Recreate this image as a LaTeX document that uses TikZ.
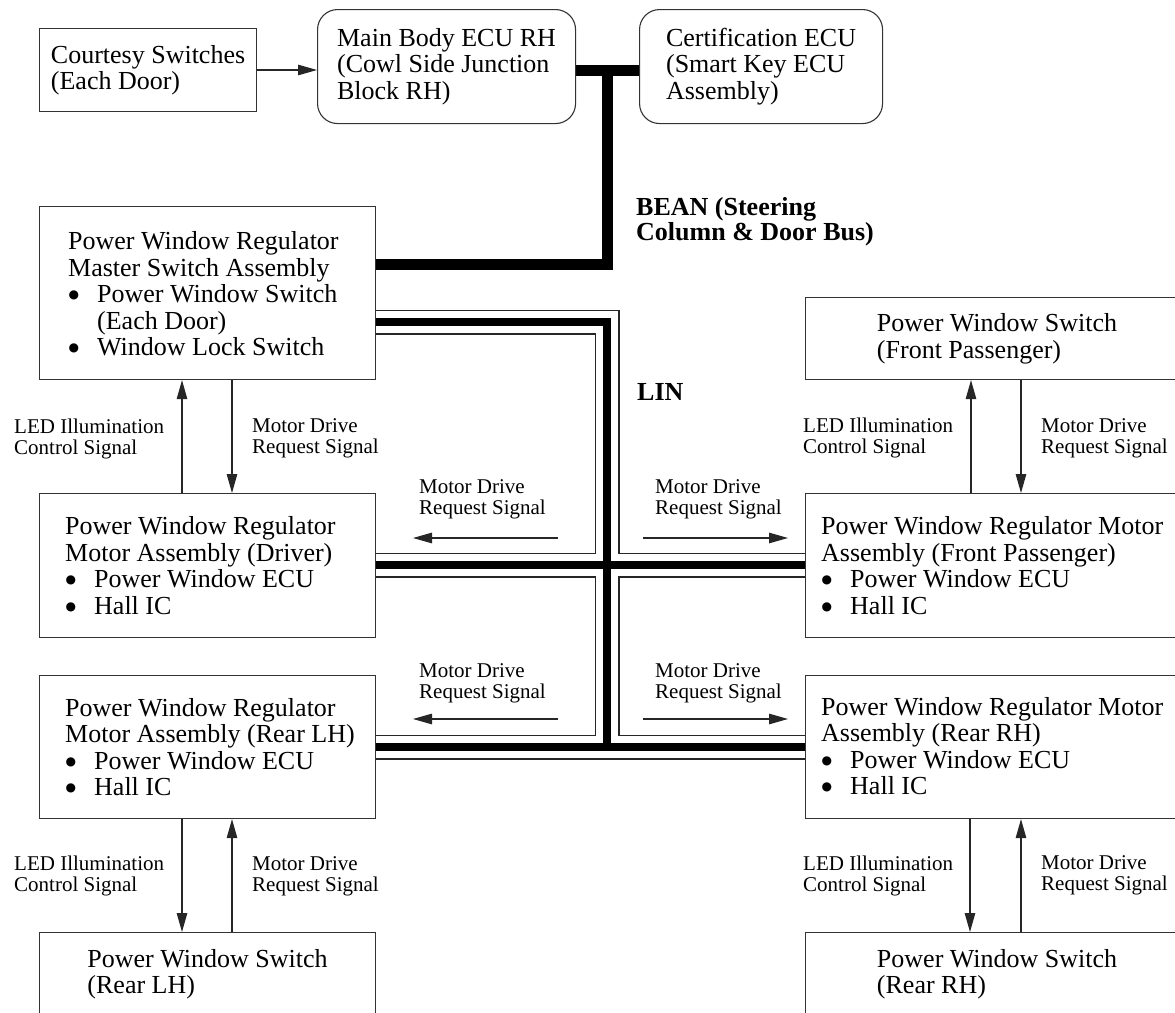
\documentclass[tikz,border=0pt]{standalone}
\usepackage{fontspec}
\setmainfont{Liberation Serif}
\newfontfamily\symfont{DejaVu Sans}
\usetikzlibrary{arrows.meta,backgrounds}
\newcommand{\boxfont}{\fontsize{26}{26.5}\selectfont}
\newcommand{\lblfont}{\fontsize{21}{21}\selectfont}
\newcommand{\bul}{\makebox[29pt][l]{\hspace*{0.5pt}\raisebox{4.2pt}{\fontsize{12}{12}\symfont ●}}}
\begin{document}
\begin{tikzpicture}[x=1pt,y=-1pt,
  box/.style={draw=black!80, line width=1.1pt, rectangle, inner sep=0pt, anchor=north west, align=left, font=\boxfont},
  rbox/.style={box, rounded corners=20pt},
  btext/.style={inner sep=0pt, anchor=west, align=left, font=\boxfont},
  lbl/.style={inner sep=0pt, anchor=west, align=left, font=\lblfont},
  boldlbl/.style={inner sep=0pt, anchor=west, align=left, font={\fontsize{26}{25}\selectfont\bfseries}},
  sig/.style={draw=black!85, line width=1.1pt, -{Triangle[length=19pt,width=10.5pt]}},
  bean/.style={line width=11pt, draw=black, line join=miter},
  lineouter/.style={line width=25pt, draw=black!85, line join=miter},
  linegap/.style={line width=22.4pt, draw=white, line join=miter},
  linecore/.style={line width=8pt, draw=black, line join=miter},
]
\useasboundingbox (0,0) rectangle (1175,1012);
\clip (0,0) rectangle (1175,1012);

% boxes
\node[box, minimum width=217pt, minimum height=83pt] (courtesy) at (39,28) {Courtesy Switches\\(Each Door)};
\node[rbox, minimum width=258pt, minimum height=114pt] (main) at (317,9) {Main Body ECU RH\\(Cowl Side Junction\\Block RH)};
\node[rbox, minimum width=243pt, minimum height=114pt] (cert) at (639,9) {Certification ECU\\(Smart Key ECU\\Assembly)};

\node[box, minimum width=336pt, minimum height=173pt] (master) at (39,206) {};
\node[btext] (mastertxt) at ([xshift=29pt,yshift=-1pt]master.west) {Power Window Regulator\\Master Switch Assembly\\\bul Power Window Switch\\\hspace*{29pt}(Each Door)\\\bul Window Lock Switch};

\node[box, minimum width=383pt, minimum height=82pt] (fpsw) at (805,297) {Power Window Switch\\(Front Passenger)};

\node[box, minimum width=336pt, minimum height=144pt] (driver) at (39,493) {};
\node[btext] (drivertxt) at ([xshift=26pt]driver.west) {Power Window Regulator\\Motor Assembly (Driver)\\\bul Power Window ECU\\\bul Hall IC};

\node[box, minimum width=383pt, minimum height=144pt] (fpmotor) at (805,493) {};
\node[btext] (fpmotortxt) at ([xshift=16pt]fpmotor.west) {Power Window Regulator Motor\\Assembly (Front Passenger)\\\bul Power Window ECU\\\bul Hall IC};

\node[box, minimum width=336pt, minimum height=143pt] (rearlh) at (39,675) {};
\node[btext] (rearlhtxt) at ([xshift=26pt]rearlh.west) {Power Window Regulator\\Motor Assembly (Rear LH)\\\bul Power Window ECU\\\bul Hall IC};

\node[box, minimum width=383pt, minimum height=143pt] (rearrh) at (805,675) {};
\node[btext] (rearrhtxt) at ([xshift=16pt,yshift=1pt]rearrh.west) {Power Window Regulator Motor\\Assembly (Rear RH)\\\bul Power Window ECU\\\bul Hall IC};

\node[box, minimum width=336pt, minimum height=83pt] (rlsw) at (39,932) {Power Window Switch\\(Rear LH)};
\node[box, minimum width=383pt, minimum height=83pt] (rrsw) at (805,932) {Power Window Switch\\(Rear RH)};

% buses (behind boxes)
\coordinate (linT) at (607,322);
\coordinate (linM) at (607,565);
\coordinate (linBot) at (607,747);
\coordinate (beanJ) at (607,70);
\coordinate (beanC) at (607,264);
\begin{scope}[on background layer]
\draw[lineouter] (master.east |- linT) -- (linT) -- (linBot)
  (driver.east |- linM) -- (fpmotor.west |- linM)
  (rearlh.east |- linBot) -- (rearrh.west |- linBot);
\draw[linegap] (master.east |- linT) -- (linT) -- (linBot)
  (driver.east |- linM) -- (fpmotor.west |- linM)
  (rearlh.east |- linBot) -- (rearrh.west |- linBot);
\draw[linecore] (master.east |- linT) -- (linT) -- (linBot)
  (driver.east |- linM) -- (fpmotor.west |- linM)
  (rearlh.east |- linBot) -- (rearrh.west |- linBot);
\draw[bean] (main.east |- beanJ) -- (cert.west |- beanJ);
\draw[bean] (beanJ) -- (beanC) -- (master.east |- beanC);
\end{scope}

% signal arrows
\draw[sig] (courtesy.east |- beanJ) -- (main.west |- beanJ);
\draw[sig] ([xshift=143pt]driver.north west) -- ([xshift=143pt]master.south west);
\draw[sig] ([xshift=193pt]master.south west) -- ([xshift=193pt]driver.north west);
\draw[sig] ([xshift=166pt]fpmotor.north west) -- ([xshift=166pt]fpsw.south west);
\draw[sig] ([xshift=216pt]fpsw.south west) -- ([xshift=216pt]fpmotor.north west);
\draw[sig] ([xshift=143pt]rearlh.south west) -- ([xshift=143pt]rlsw.north west);
\draw[sig] ([xshift=193pt]rlsw.north west) -- ([xshift=193pt]rearlh.south west);
\draw[sig] ([xshift=165pt]rearrh.south west) -- ([xshift=165pt]rrsw.north west);
\draw[sig] ([xshift=216pt]rrsw.north west) -- ([xshift=216pt]rearrh.south west);

\coordinate (ul1) at (558,538); \coordinate (ul2) at (413,538);
\coordinate (ur1) at (643,538); \coordinate (ur2) at (788,538);
\coordinate (ll1) at (558,719); \coordinate (ll2) at (413,719);
\coordinate (lr1) at (643,719); \coordinate (lr2) at (788,719);
\draw[sig] (ul1) -- (ul2);
\draw[sig] (ur1) -- (ur2);
\draw[sig] (ll1) -- (ll2);
\draw[sig] (lr1) -- (lr2);

% labels
\node[lbl] (led1) at (14,438.5) {LED Illumination\\Control Signal};
\node[lbl] (md1) at (252,438.5) {Motor Drive\\Request Signal};
\node[lbl] (led2) at (803,438) {LED Illumination\\Control Signal};
\node[lbl] (md2) at (1041,438) {Motor Drive\\Request Signal};
\node[lbl] (led3) at (14,876) {LED Illumination\\Control Signal};
\node[lbl] (md3) at (252,876) {Motor Drive\\Request Signal};
\node[lbl] (led4) at (803,875.5) {LED Illumination\\Control Signal};
\node[lbl] (md4) at (1041,875.5) {Motor Drive\\Request Signal};
\node[lbl] (mdul) at (419,499.5) {Motor Drive\\Request Signal};
\node[lbl] (mdur) at (655,499.5) {Motor Drive\\Request Signal};
\node[lbl] (mdll) at (419,683.5) {Motor Drive\\Request Signal};
\node[lbl] (mdlr) at (655,683.5) {Motor Drive\\Request Signal};
\node[boldlbl] (beanlbl) at (636,222) {BEAN (Steering\\Column \& Door Bus)};
\node[boldlbl] (linlbl) at (637,392) {LIN};
\end{tikzpicture}
\end{document}
